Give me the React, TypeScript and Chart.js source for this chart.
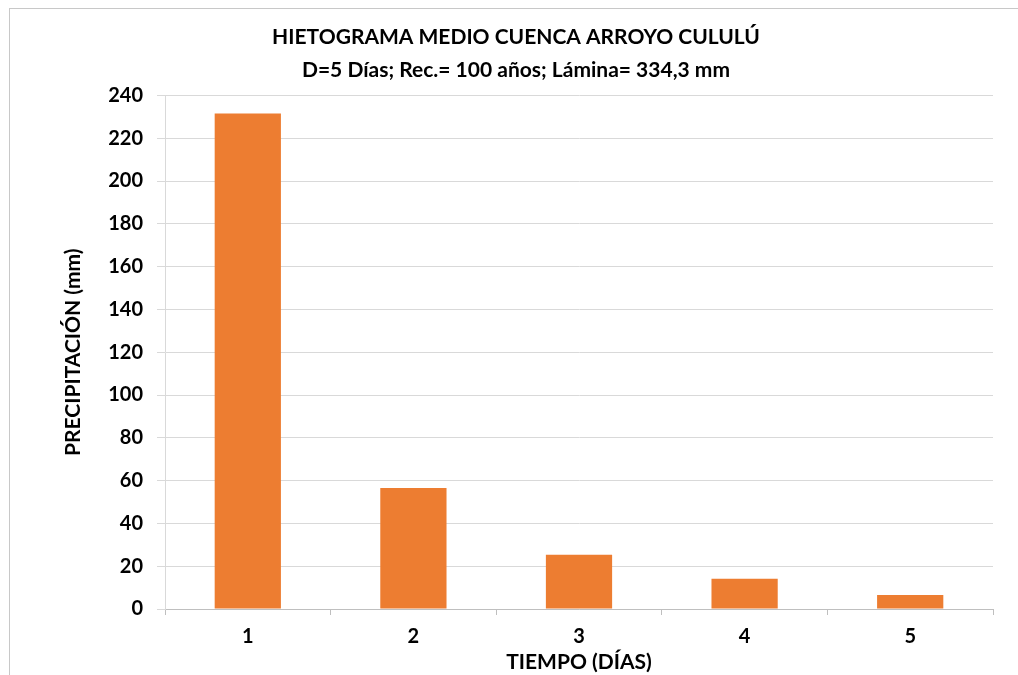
import React, { useEffect, useRef } from "react";
import { Chart, registerables } from "chart.js";

Chart.register(...registerables);

const categories: string[] = ["1", "2", "3", "4", "5"];
const precipitation: number[] = [231.6, 56.6, 25.4, 14.1, 6.6];
const titleText = "HIETOGRAMA MEDIO CUENCA ARROYO CULULÚ";
const subtitleText = "D=5 Días; Rec.= 100 años; Lámina= 334,3 mm";
const xTitle = "TIEMPO (DÍAS)";
const yTitle = "PRECIPITACIÓN (mm)";
const yMin = 0;
const yMax = 240;
const yStep = 20;

const FONT = "Lato, 'Open Sans', sans-serif";

const borderPlugin = {
  id: "outerBorder",
  beforeDraw(chart: any) {
    const ctx = chart.ctx;
    ctx.save();
    ctx.fillStyle = "#ffffff";
    ctx.fillRect(0, 0, chart.width, chart.height);
    ctx.strokeStyle = "#c8c8c8";
    ctx.lineWidth = 1;
    ctx.strokeRect(9.5, 8.5, chart.width + 20, chart.height + 20);
    ctx.restore();
  },
};

export default function App() {
  const ref = useRef<HTMLCanvasElement | null>(null);
  useEffect(() => {
    if (!ref.current) return;
    const chart = new Chart(ref.current, {
      type: "bar",
      data: {
        labels: categories,
        datasets: [
          {
            data: precipitation,
            backgroundColor: "#ED7D31",
            borderWidth: 0,
            barPercentage: 0.4,
            categoryPercentage: 1,
          },
        ],
      },
      plugins: [borderPlugin],
      options: {
        animation: false,
        responsive: false,
        maintainAspectRatio: false,
        layout: { padding: { left: 39, right: 25, top: 0, bottom: 0 } },
        plugins: {
          legend: { display: false },
          tooltip: { enabled: false },
          title: {
            display: true,
            text: titleText,
            color: "#000000",
            font: { family: FONT, size: 21, weight: "bold" },
            padding: { top: 25, bottom: 0 },
          },
          subtitle: {
            display: true,
            text: subtitleText,
            color: "#000000",
            font: { family: FONT, size: 21, weight: "bold" },
            padding: { top: 7, bottom: 13 },
          },
        },
        scales: {
          x: {
            afterFit: (scale: any) => {
              scale.height = 66;
            },
            grid: {
              display: true,
              offset: true,
              drawOnChartArea: false,
              drawTicks: true,
              tickLength: 6,
              color: "#bfbfbf",
            },
            border: { display: true, color: "#bfbfbf", width: 1 },
            ticks: {
              color: "#000000",
              font: { family: FONT, size: 20, weight: "bold" },
              padding: 10,
            },
            title: {
              display: true,
              text: xTitle,
              color: "#000000",
              font: { family: FONT, size: 21, weight: "bold" },
              padding: { top: 0, bottom: 0 },
            },
          },
          y: {
            min: yMin,
            max: yMax,
            afterFit: (scale: any) => {
              scale.width = 126;
            },
            grid: {
              color: "#d9d9d9",
              lineWidth: 1,
              drawTicks: true,
              tickLength: 8,
            },
            border: { display: true, color: "#d9d9d9", width: 1 },
            ticks: {
              stepSize: yStep,
              color: "#000000",
              font: { family: FONT, size: 20, weight: "bold" },
              padding: 14,
            },
            title: {
              display: true,
              text: yTitle,
              color: "#000000",
              font: { family: FONT, size: 21, weight: "bold" },
              padding: { top: 22, bottom: 0 },
            },
          },
        },
      },
    });
    return () => chart.destroy();
  }, []);
  return (
    <div style={{ position: "absolute", left: 0, top: 0, width: 1018, height: 675, background: "#fff" }}>
      <canvas ref={ref} width={1018} height={675} style={{ width: 1018, height: 675, display: "block" }} />
    </div>
  );
}
